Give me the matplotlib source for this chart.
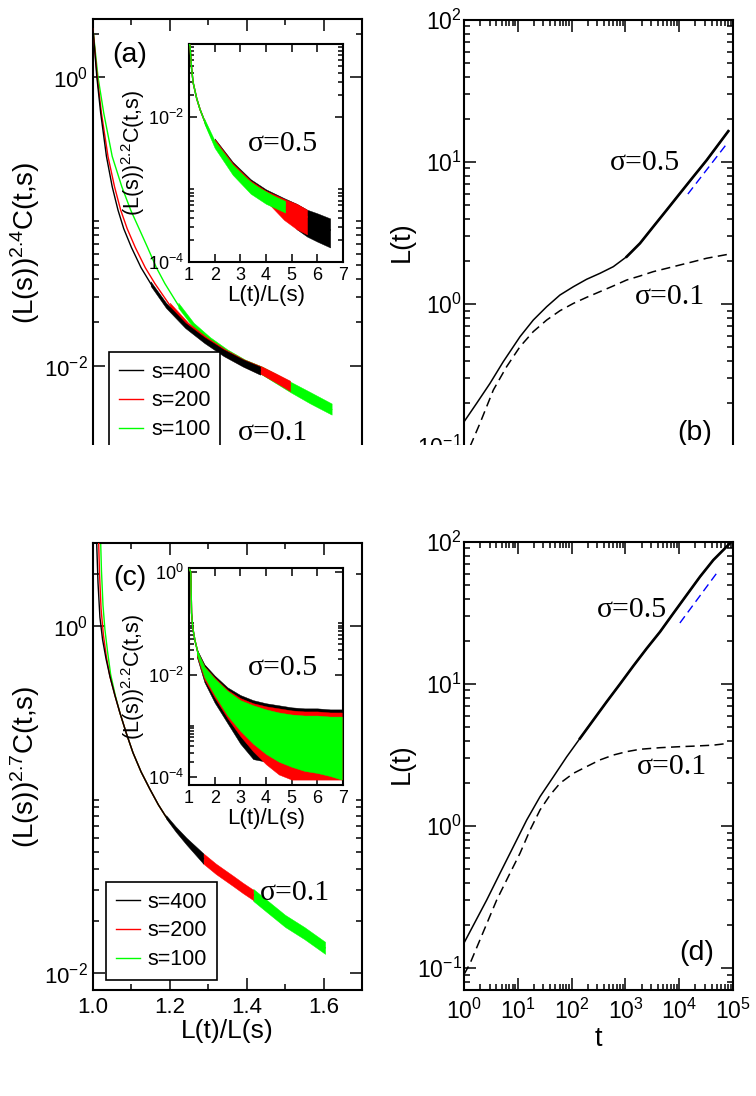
import numpy as np
import matplotlib
matplotlib.use('Agg')
import matplotlib.pyplot as plt
from matplotlib.ticker import FixedLocator, FuncFormatter, NullFormatter, LogLocator
from matplotlib.patches import Rectangle
from matplotlib.lines import Line2D

plt.rcParams['font.family'] = ['Liberation Sans', 'DejaVu Sans']
plt.rcParams['mathtext.fontset'] = 'custom'
plt.rcParams['mathtext.rm'] = 'Liberation Sans'
plt.rcParams['mathtext.it'] = 'Liberation Sans:italic'
plt.rcParams['mathtext.bf'] = 'Liberation Sans:bold'
plt.rcParams['axes.linewidth'] = 1.5

# ---- panel (a): sigma=0.1, (L(s))^2.4 C(t,s) vs L(t)/L(s) ----
a_black_x = [1.000, 1.010, 1.020, 1.035, 1.050, 1.065, 1.080, 1.100, 1.125, 1.150, 1.190, 1.240, 1.290, 1.340, 1.390, 1.435]
a_black_y = [2.14, 1.0, 0.562, 0.282, 0.174, 0.120, 0.0891, 0.0661, 0.0479, 0.0372, 0.0263, 0.0191, 0.0151, 0.0123, 0.0105, 0.0093]
a_red_x = [1.000, 1.011, 1.022, 1.039, 1.056, 1.072, 1.089, 1.110, 1.136, 1.161, 1.200, 1.248, 1.296, 1.345, 1.393, 1.440, 1.475, 1.513]
a_red_y = [2.14, 1.0, 0.562, 0.282, 0.174, 0.120, 0.0891, 0.0661, 0.0479, 0.0372, 0.0263, 0.0191, 0.0151, 0.0123, 0.0105, 0.0093, 0.0083, 0.0073]
a_green_x = [1.000, 1.013, 1.028, 1.050, 1.075, 1.098, 1.120, 1.142, 1.165, 1.187, 1.222, 1.262, 1.305, 1.350, 1.395, 1.440, 1.513, 1.565, 1.621]
a_green_y = [2.14, 1.0, 0.562, 0.282, 0.174, 0.120, 0.0891, 0.0661, 0.0479, 0.0372, 0.0263, 0.0191, 0.0151, 0.0123, 0.0105, 0.0093, 0.0072, 0.0060, 0.0050]
# noisy tails (upper / lower edge of the band)
a_black_bx = [1.15, 1.19, 1.24, 1.29, 1.34, 1.39, 1.435]
a_black_hi = [0.0385, 0.0274, 0.0199, 0.0158, 0.0130, 0.0111, 0.0099]
a_black_lo = [0.0358, 0.0252, 0.0183, 0.0144, 0.0117, 0.0099, 0.0087]
a_red_bx = [1.20, 1.248, 1.296, 1.345, 1.393, 1.44, 1.475, 1.513]
a_red_hi = [0.0274, 0.0199, 0.0158, 0.0130, 0.0111, 0.0099, 0.0089, 0.0079]
a_red_lo = [0.0252, 0.0183, 0.0144, 0.0117, 0.0099, 0.0087, 0.0077, 0.0067]
a_green_bx = [1.222, 1.262, 1.305, 1.35, 1.395, 1.44, 1.513, 1.565, 1.621]
a_green_hi = [0.0274, 0.0199, 0.0158, 0.0130, 0.0111, 0.0099, 0.0078, 0.0066, 0.0055]
a_green_lo = [0.0252, 0.0183, 0.0144, 0.0117, 0.0099, 0.0087, 0.0066, 0.0055, 0.0046]

# inset of (a): sigma=0.5, exponents
ia_x = [1.02, 1.04, 1.1, 1.16, 1.3, 1.43, 1.65, 1.94, 2.3, 2.71, 3.15, 3.65, 4.15, 4.75, 5.2, 5.6, 6.0, 6.5]
ia_exp = [-1.0, -1.03, -1.33, -1.53, -1.75, -1.90, -2.10, -2.32, -2.52, -2.69, -2.84, -2.97, -3.07, -3.20, -3.28, -3.38, -3.46, -3.56]
ia_end = {'black': 6.5, 'red': 5.6, 'green': 4.75}
ia_black_bx = [2.0, 2.7, 3.4, 4.0, 4.7, 5.2, 5.6, 6.0, 6.5]
ia_black_hi = [-2.30, -2.62, -2.86, -3.0, -3.12, -3.2, -3.28, -3.33, -3.40]
ia_black_lo = [-2.40, -2.76, -3.02, -3.16, -3.30, -3.55, -3.65, -3.72, -3.80]
ia_red_bx = [2.0, 2.7, 3.4, 4.0, 4.7, 5.2, 5.6]
ia_red_hi = [-2.31, -2.64, -2.88, -3.02, -3.13, -3.2, -3.28]
ia_red_lo = [-2.40, -2.76, -3.02, -3.16, -3.42, -3.55, -3.62]
ia_green_bx = [1.6, 2.0, 2.7, 3.4, 4.0, 4.75]
ia_green_hi = [-2.03, -2.33, -2.66, -2.90, -3.04, -3.16]
ia_green_lo = [-2.10, -2.43, -2.80, -3.06, -3.20, -3.32]

# ---- panel (c): sigma=0.1, exponents of (L(s))^2.7 C(t,s) ----
c_black_x = [1.0096, 1.013, 1.018, 1.025, 1.034, 1.044, 1.057, 1.070, 1.087, 1.104, 1.125, 1.148, 1.170, 1.190, 1.215, 1.243, 1.265, 1.287]
c_black_e = [0.477, 0.25, 0.05, -0.08, -0.19, -0.29, -0.40, -0.50, -0.62, -0.73, -0.84, -0.94, -1.03, -1.10, -1.17, -1.24, -1.29, -1.34]
c_red_x = [1.0148, 1.017, 1.021, 1.027, 1.035, 1.044, 1.057, 1.070, 1.087, 1.104, 1.125, 1.148, 1.170, 1.190, 1.215, 1.243, 1.265, 1.287, 1.32, 1.365, 1.39, 1.417]
c_red_e = [0.477, 0.30, 0.10, -0.05, -0.18, -0.29, -0.40, -0.50, -0.62, -0.73, -0.84, -0.94, -1.03, -1.10, -1.17, -1.24, -1.29, -1.34, -1.40, -1.47, -1.51, -1.55]
c_green_x = [1.0200, 1.022, 1.026, 1.031, 1.038, 1.046, 1.058, 1.070, 1.087, 1.104, 1.125, 1.148, 1.170, 1.190, 1.215, 1.243, 1.265, 1.287, 1.32, 1.365, 1.39, 1.417, 1.45, 1.50, 1.55, 1.604]
c_green_e = [0.477, 0.32, 0.12, -0.02, -0.15, -0.28, -0.40, -0.50, -0.62, -0.73, -0.84, -0.94, -1.03, -1.10, -1.17, -1.24, -1.29, -1.34, -1.40, -1.47, -1.51, -1.55, -1.61, -1.70, -1.77, -1.855]
c_black_bx = [1.19, 1.215, 1.243, 1.265, 1.287]
c_black_hi = [-1.09, -1.155, -1.22, -1.265, -1.31]
c_black_lo = [-1.11, -1.185, -1.26, -1.315, -1.37]
c_red_bx = [1.287, 1.32, 1.365, 1.39, 1.417]
c_red_hi = [-1.31, -1.37, -1.44, -1.48, -1.52]
c_red_lo = [-1.37, -1.43, -1.50, -1.54, -1.58]
c_green_bx = [1.417, 1.45, 1.50, 1.55, 1.604]
c_green_hi = [-1.515, -1.575, -1.665, -1.735, -1.82]
c_green_lo = [-1.585, -1.645, -1.735, -1.805, -1.89]

# inset of (c): sigma=0.5
ic_x = [1.02, 1.07, 1.1, 1.15, 1.23, 1.35, 1.55, 1.8, 2.08, 2.5, 2.99, 3.5, 4.04, 4.7, 5.32, 6.1, 6.88]
ic_exp = [0.05, 0.0, -0.80, -1.10, -1.33, -1.58, -1.85, -2.05, -2.24, -2.45, -2.63, -2.77, -2.885, -2.99, -3.08, -3.16, -3.22]
ic_bx = [1.3, 1.6, 2.0, 2.5, 3.0, 3.5, 4.0, 4.5, 5.0, 5.5, 6.0, 6.5, 6.95]
ic_black_hi = [-1.50, -1.80, -2.02, -2.25, -2.40, -2.50, -2.56, -2.60, -2.64, -2.66, -2.66, -2.68, -2.68]
ic_black_lo = [-1.65, -2.15, -2.55, -2.95, -3.35, -3.65, -3.70, -3.72, -3.72, -3.70, -3.72, -3.72, -3.72]
ic_red_hi = [-1.52, -1.84, -2.06, -2.30, -2.46, -2.56, -2.62, -2.66, -2.70, -2.72, -2.72, -2.74, -2.74]
ic_red_lo = [-1.62, -2.10, -2.45, -2.85, -3.20, -3.50, -3.75, -3.95, -4.05, -4.05, -4.05, -4.05, -4.05]
ic_green_hi = [-1.52, -1.85, -2.08, -2.32, -2.50, -2.60, -2.68, -2.74, -2.78, -2.80, -2.80, -2.82, -2.82]
ic_green_lo = [-1.60, -2.05, -2.40, -2.80, -3.10, -3.35, -3.55, -3.70, -3.80, -3.88, -3.92, -3.98, -4.05]

# ---- panels (b), (d): L(t) ----
b_s05_t = [1.0, 1.72, 3.04, 5.38, 11.0, 19.4, 34.4, 60.8, 108, 190, 337, 596, 1057, 1868, 3300, 5850, 10350, 18300, 32400, 81900]
b_s05_L = [0.148, 0.20, 0.276, 0.393, 0.589, 0.771, 0.957, 1.157, 1.324, 1.493, 1.645, 1.832, 2.154, 2.675, 3.505, 4.59, 6.02, 7.88, 10.3, 16.5]
b_s01_t = [1.0, 1.29, 1.98, 3.51, 6.2, 11.0, 19.4, 34.4, 60.8, 108, 190, 337, 596, 1057, 1868, 3300, 5850, 10350, 18300, 32400, 81900]
b_s01_L = [0.08, 0.0989, 0.1445, 0.248, 0.362, 0.501, 0.639, 0.771, 0.897, 1.01, 1.114, 1.222, 1.34, 1.476, 1.575, 1.69, 1.783, 1.883, 1.987, 2.10, 2.24]
b_fit_t = [14500, 81000]
b_fit_L = [5.95, 13.8]

d_s05_t = [1.0, 2.64, 4.67, 8.26, 14.6, 25.9, 45.8, 81, 143, 253, 449, 794, 1404, 2488, 4400, 7800, 13800, 24400, 43000, 88000]
d_s05_L = [0.15, 0.301, 0.465, 0.715, 1.10, 1.61, 2.22, 3.07, 4.14, 5.57, 7.50, 10.0, 13.4, 17.8, 23.3, 31.5, 42.4, 57.0, 74.6, 98]
d_s01_t = [1.0, 1.3, 4.05, 7.16, 11.0, 16.9, 25.9, 39.7, 60.8, 108, 190, 337, 596, 1057, 1868, 4400, 10350, 18300, 43000, 81900]
d_s01_L = [0.09, 0.108, 0.301, 0.465, 0.643, 0.937, 1.297, 1.65, 2.0, 2.35, 2.62, 2.92, 3.16, 3.34, 3.47, 3.56, 3.62, 3.65, 3.71, 3.82]
d_fit_t = [10300, 55000]
d_fit_L = [26.9, 63.5]

s_labels = ['s=400', 's=200', 's=100']
colors = {'black': 'black', 'red': '#ff0000', 'green': '#00ff00'}

W, H = 756, 1096


def box(l, t, r, b):
    return [l / W, 1 - b / H, (r - l) / W, (b - t) / H]


def pow10(v):
    return r'$10^{%d}$' % int(round(np.log10(v)))


def style(ax, size, major=8.5, minor=4.5, pad=3.5):
    ax.tick_params(which='both', direction='in', top=True, right=True,
                   width=1.1, labelsize=size, pad=pad)
    ax.tick_params(which='major', length=major)
    ax.tick_params(which='minor', length=minor)


def log_y(ax, labelled, lo, hi, every_decade=False):
    # grace-style: labelled majors, minor ticks 2x..10x above each major
    ax.set_yscale('log')
    ax.yaxis.set_major_locator(FixedLocator(labelled))
    ax.yaxis.set_major_formatter(FuncFormatter(lambda v, p: pow10(v)))
    if every_decade:
        ax.yaxis.set_minor_locator(LogLocator(base=10, subs=np.arange(2, 10), numticks=50))
    else:
        minors = [k * m for m in list(labelled) + [labelled[0] / 100] for k in range(2, 11)]
        ax.yaxis.set_minor_locator(FixedLocator(minors))
    ax.yaxis.set_minor_formatter(NullFormatter())
    ax.set_ylim(lo, hi)


fig = plt.figure(figsize=(7.56, 10.96), dpi=100)
ax_a = fig.add_axes(box(93, 19, 362, 466))
ax_b = fig.add_axes(box(464, 20, 733, 468))
ax_c = fig.add_axes(box(93, 543, 362, 990))
ax_d = fig.add_axes(box(464, 542, 733, 990))
in_a = fig.add_axes(box(189, 44, 343, 262))
in_c = fig.add_axes(box(189, 568, 343, 785))

serif = dict(family=['Liberation Serif', 'DejaVu Serif'], fontsize=21.5)

# (a) main
for z, (name, x, y, bx, hi, lo) in enumerate([
        ('green', a_green_x, a_green_y, a_green_bx, a_green_hi, a_green_lo),
        ('red', a_red_x, a_red_y, a_red_bx, a_red_hi, a_red_lo),
        ('black', a_black_x, a_black_y, a_black_bx, a_black_hi, a_black_lo)]):
    ax_a.plot(x, y, color=colors[name], lw=1.0, zorder=2 + z)
    ax_a.fill_between(bx, lo, hi, color=colors[name], lw=0.3, edgecolor=colors[name], zorder=2 + z)
ax_a.set_xlim(1.0, 1.7)
log_y(ax_a, [1e-2, 1e0], 0.00203, 2.52)
ax_a.xaxis.set_major_locator(FixedLocator([1.0, 1.2, 1.4, 1.6]))
ax_a.xaxis.set_minor_locator(FixedLocator([1.1, 1.3, 1.5]))
style(ax_a, 16)
ax_a.tick_params(labelbottom=False)
ax_a.set_ylabel(r'(L(s))$^{2.4}$C(t,s)', fontsize=20)
ax_a.yaxis.set_label_coords(-0.19, 0.5)
ax_a.text(0.1375, 0.92, '(a)', transform=ax_a.transAxes, fontsize=20.5, ha='center', va='center')
ax_a.text(0.669, 0.074, 'σ=0.1', transform=ax_a.transAxes, ha='center', va='center', **serif)

# (c) main
for z, (name, x, e, bx, hi, lo) in enumerate([
        ('green', c_green_x, c_green_e, c_green_bx, c_green_hi, c_green_lo),
        ('red', c_red_x, c_red_e, c_red_bx, c_red_hi, c_red_lo),
        ('black', c_black_x, c_black_e, c_black_bx, c_black_hi, c_black_lo)]):
    ax_c.plot(x, 10.0 ** np.array(e), color=colors[name], lw=1.0, zorder=2 + z)
    ax_c.fill_between(bx, 10.0 ** np.array(lo), 10.0 ** np.array(hi),
                      color=colors[name], lw=0.3, edgecolor=colors[name], zorder=2 + z)
ax_c.set_xlim(1.0, 1.7)
log_y(ax_c, [1e-2, 1e0], 0.00798, 3.01)
ax_c.xaxis.set_major_locator(FixedLocator([1.0, 1.2, 1.4, 1.6]))
ax_c.xaxis.set_minor_locator(FixedLocator([1.1, 1.3, 1.5]))
ax_c.xaxis.set_major_formatter(FuncFormatter(lambda v, p: '%.1f' % v))
style(ax_c, 16)
ax_c.tick_params(axis='x', pad=5)
ax_c.set_ylabel(r'(L(s))$^{2.7}$C(t,s)', fontsize=20)
ax_c.yaxis.set_label_coords(-0.19, 0.5)
ax_c.set_xlabel('L(t)/L(s)', fontsize=19, labelpad=1)
ax_c.text(0.1375, 0.922, '(c)', transform=ax_c.transAxes, fontsize=20.5, ha='center', va='center')
ax_c.text(0.751, 0.217, 'σ=0.1', transform=ax_c.transAxes, ha='center', va='center', **serif)

# legends
handles = [Line2D([], [], color=colors[n], lw=1.0) for n in ['black', 'red', 'green']]
for ax, anchor in [(ax_a, (0.0595, 0.255)), (ax_c, (0.048, 0.2416))]:
    leg = ax.legend(handles, s_labels, loc='upper left', bbox_to_anchor=anchor,
                    fontsize=15.5, frameon=True, fancybox=False, edgecolor='black',
                    framealpha=1, handlelength=1.15, handletextpad=0.35,
                    borderpad=0.45, labelspacing=0.36, borderaxespad=0)
    leg.get_frame().set_linewidth(1.2)
    leg.set_zorder(10)

# insets
for ax, x, e, bands, ends in [
        (in_a, ia_x, ia_exp,
         [('black', ia_black_bx, ia_black_hi, ia_black_lo),
          ('red', ia_red_bx, ia_red_hi, ia_red_lo),
          ('green', ia_green_bx, ia_green_hi, ia_green_lo)], ia_end),
        (in_c, ic_x, ic_exp,
         [('black', ic_bx, ic_black_hi, ic_black_lo),
          ('red', ic_bx, ic_red_hi, ic_red_lo),
          ('green', ic_bx, ic_green_hi, ic_green_lo)], None)]:
    x = np.array(x)
    for z, (name, bx, hi, lo) in enumerate(bands):
        keep = x <= (ends[name] if ends else x[-1])
        ax.plot(x[keep], 10.0 ** np.array(e)[keep], color=colors[name], lw=1.0, zorder=2 + z)
        ax.fill_between(bx, 10.0 ** np.array(lo), 10.0 ** np.array(hi),
                        color=colors[name], lw=0.3, edgecolor=colors[name], zorder=2 + z)
    ax.set_xlim(1, 7)
    ax.xaxis.set_major_locator(FixedLocator([1, 2, 3, 4, 5, 6, 7]))
    style(ax, 13, major=6, minor=3.5)
    ax.set_xlabel('L(t)/L(s)', fontsize=16, labelpad=1)
    ax.set_ylabel(r'(L(s))$^{2.2}$C(t,s)', fontsize=15.5)
    ax.yaxis.set_label_coords(-0.27, 0.5)
    ax.text(0.61, 0.54, 'σ=0.5', transform=ax.transAxes, ha='center', va='center', **serif)
log_y(in_a, [1e-4, 1e-2], 1e-4, 0.1)
log_y(in_c, [1e-4, 1e-2, 1e0], 7e-5, 1.197)

# (b) and (d)
for ax, t5, L5, t1, L1, ft, fL, thick in [
        (ax_b, b_s05_t, b_s05_L, b_s01_t, b_s01_L, b_fit_t, b_fit_L, 1000),
        (ax_d, d_s05_t, d_s05_L, d_s01_t, d_s01_L, d_fit_t, d_fit_L, 100)]:
    ax.plot(t5, L5, color='black', lw=1.1)
    late = np.array(t5) >= thick
    ax.plot(np.array(t5)[late], np.array(L5)[late], color='black', lw=1.9)
    ax.plot(t1, L1, color='black', lw=1.1, dashes=(6, 3.5))
    ax.plot(ft, fL, color='blue', lw=1.0, dashes=(6, 3.5))
    ax.set_xscale('log')
    ax.set_xlim(1, 1e5)
    ax.xaxis.set_major_locator(FixedLocator([1e0, 1e1, 1e2, 1e3, 1e4, 1e5]))
    ax.xaxis.set_major_formatter(FuncFormatter(lambda v, p: pow10(v)))
    ax.xaxis.set_minor_locator(LogLocator(base=10, subs=np.arange(2, 10), numticks=50))
    ax.xaxis.set_minor_formatter(NullFormatter())
    log_y(ax, [1e-1, 1e0, 1e1, 1e2], 0.070, 100, every_decade=True)
    style(ax, 16.5)
    ax.tick_params(axis='y', pad=1.5)
    ax.tick_params(axis='x', pad=6)
    ax.set_ylabel('L(t)', fontsize=19.5)
    ax.yaxis.set_label_coords(-0.182, 0.505)
ax_b.tick_params(labelbottom=False)
ax_d.set_xlabel('t', fontsize=19.5, labelpad=2)
ax_b.text(0.673, 0.681, 'σ=0.5', transform=ax_b.transAxes, ha='center', va='center', **serif)
ax_b.text(0.766, 0.382, 'σ=0.1', transform=ax_b.transAxes, ha='center', va='center', **serif)
ax_b.text(0.859, 0.078, '(b)', transform=ax_b.transAxes, fontsize=20.5, ha='center', va='center')
ax_d.text(0.625, 0.848, 'σ=0.5', transform=ax_d.transAxes, ha='center', va='center', **serif)
ax_d.text(0.773, 0.498, 'σ=0.1', transform=ax_d.transAxes, ha='center', va='center', **serif)
ax_d.text(0.866, 0.083, '(d)', transform=ax_d.transAxes, fontsize=20.5, ha='center', va='center')

# the upper row is cut off in the original figure
fig.add_artist(Rectangle((0, 1 - 480 / H), 1, 35 / H, transform=fig.transFigure,
                         facecolor='white', edgecolor='none', zorder=10))

fig.savefig('out.png', dpi=100)
